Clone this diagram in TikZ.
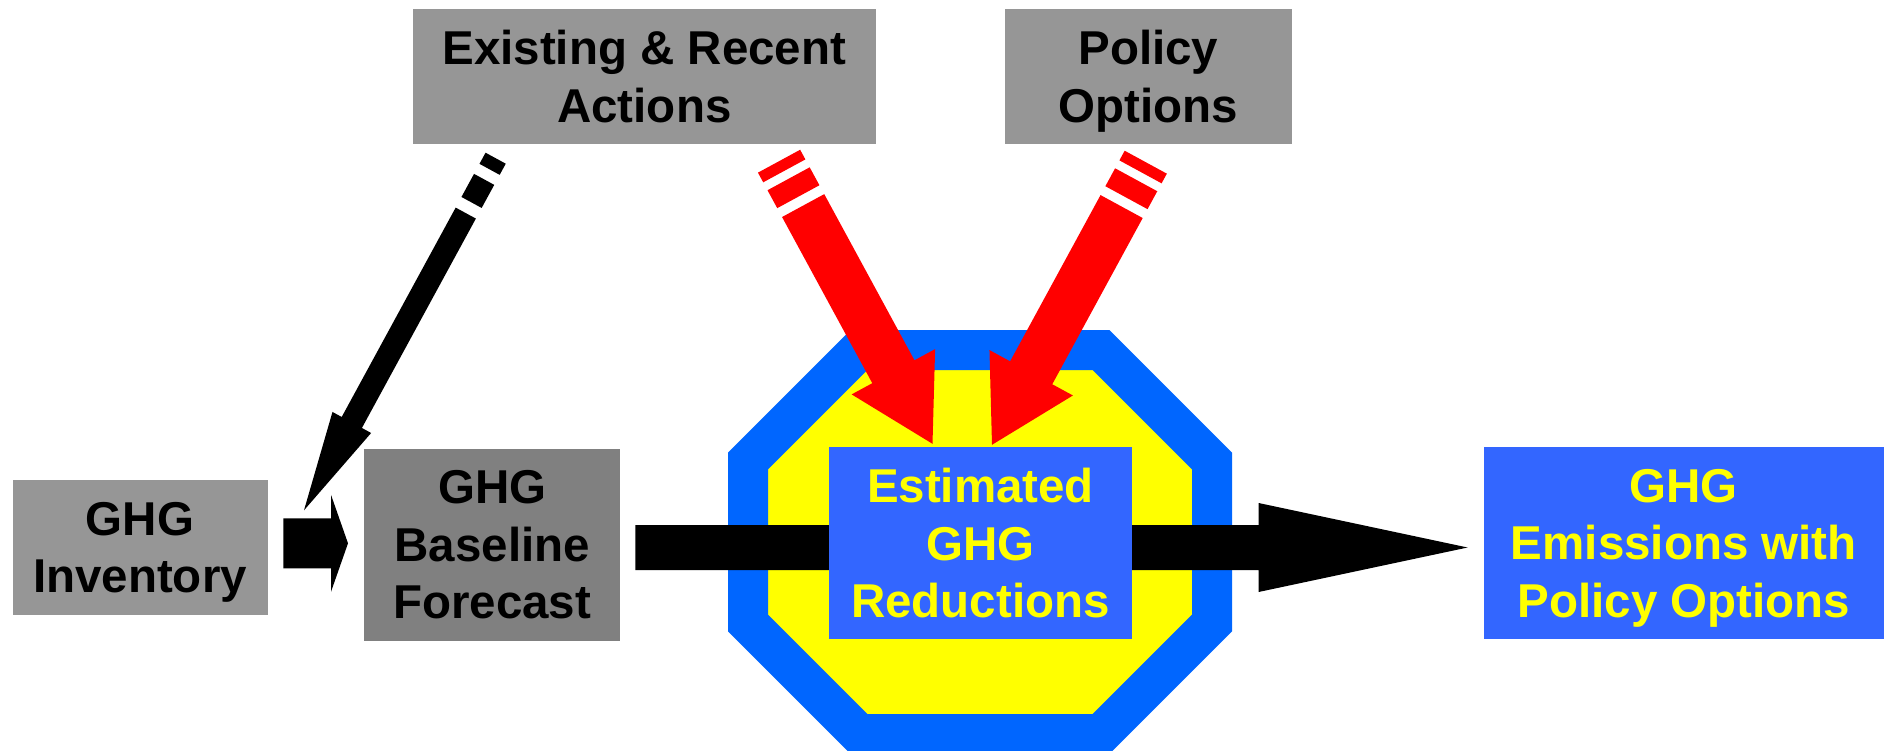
\documentclass[tikz,border=0pt]{standalone}
\usepackage{fontspec}
\setmainfont{Liberation Sans}
\usetikzlibrary{calc}
\definecolor{boxgray}{RGB}{150,150,150}
\definecolor{basegray}{RGB}{128,128,128}
\definecolor{boxblue}{RGB}{51,102,255}
\definecolor{octblue}{RGB}{0,102,255}
\definecolor{ghgyellow}{RGB}{255,255,0}
\definecolor{arrred}{RGB}{255,0,0}
\tikzset{
  ghgbox/.style={inner sep=0pt, align=center, text depth=0pt,
    execute at begin node={\rule{0pt}{40pt}},
    font=\fontsize{47.5}{57.5}\selectfont\bfseries},
  graybox/.style={ghgbox, fill=boxgray, text=black},
  bluebox/.style={ghgbox, fill=boxblue, text=ghgyellow},
}
% block arrow: colour, tail, tip, shaft width, head width, head length
\newcommand{\blkarrow}[6]{%
  \coordinate (hb) at ($(#3)!#6!(#2)$);
  \fill[#1] ($(#2)!#4/2!90:(#3)$) -- ($(hb)!#4/2!90:(#3)$) -- ($(hb)!#5/2!90:(#3)$)
    -- (#3) -- ($(hb)!#5/2!-90:(#3)$) -- ($(hb)!#4/2!-90:(#3)$)
    -- ($(#2)!#4/2!-90:(#3)$) -- cycle;
}

\begin{document}
\begin{tikzpicture}[x=1pt,y=-1pt]
\useasboundingbox (0,0) rectangle (1890,751);
% Octagon behind the reductions
\draw[octblue, fill=ghgyellow, line width=40pt] (748,461) -- (859,350) -- (1101,350) -- (1212,461)
  -- (1212,623) -- (1101,734) -- (859,734) -- (748,623) -- cycle;
% Boxes
\node[graybox, minimum width=463pt, minimum height=135pt] (exist) at (644.35,76.5) {Existing \& Recent\\Actions};
\node[graybox, minimum width=287pt, minimum height=135pt] (policy) at (1148.35,76.5) {Policy\\Options};
\node[graybox, minimum width=255pt, minimum height=135pt] (inv) at (140,547.5) {GHG\\Inventory};
\node[graybox, fill=basegray, minimum width=256pt, minimum height=192pt] (base) at (492.2,544.5) {GHG\\Baseline\\Forecast};
\node[bluebox, minimum width=400pt, minimum height=192pt] (emis) at (1683.8,543) {GHG\\Emissions with\\Policy Options};
% Main arrow through the octagon
\coordinate (bs) at ($(base.east)+(15,3)$);
\coordinate (bt) at ($(emis.west)+(-16,4.5)$);
\blkarrow{black}{bs}{bt}{45pt}{89pt}{209pt}
\node[bluebox, minimum width=303pt, minimum height=192pt] (est) at (980.5,543) {Estimated\\GHG\\Reductions};
% Inventory to baseline
\coordinate (ss) at ($(inv.east)+(15.6,-4.2)$);
\coordinate (st) at ($(base.west)+(-16,-1.2)$);
\blkarrow{black}{ss}{st}{50pt}{97pt}{17pt}
% Striped arrows from the actions and options
\coordinate (ktail) at ($(exist.south west)+(83,14)$);
\coordinate (ktip) at ($(base.north west)+(-60,62)$);
\coordinate (rltail) at ($(exist.south east)+(-97,17)$);
\coordinate (rltip) at ($(est.north)+(-48,-3)$);
\coordinate (rrtail) at ($(policy.south)+(-2.6,18)$);
\coordinate (rrtip) at ($(est.north)+(11.5,-2)$);
\foreach \clr/\tl/\tp/\sw/\hw/\hl/\sa/\sb/\sc/\sm in {
  black/ktail/ktip/23/44/100/12.7/24.1/50.4/62.5,
  arrred/rltail/rltip/48/95/82/11/20/40.4/50.5,
  arrred/rrtail/rrtip/48/95/82/11/20/40.4/50.5} {
  \draw[\clr, line width=\sw pt] (\tl) -- ($(\tl)!\sa pt!(\tp)$);
  \draw[\clr, line width=\sw pt] ($(\tl)!\sb pt!(\tp)$) -- ($(\tl)!\sc pt!(\tp)$);
  \coordinate (ms) at ($(\tl)!\sm pt!(\tp)$);
  \blkarrow{\clr}{ms}{\tp}{\sw pt}{\hw pt}{\hl pt}
}
\end{tikzpicture}
\end{document}
